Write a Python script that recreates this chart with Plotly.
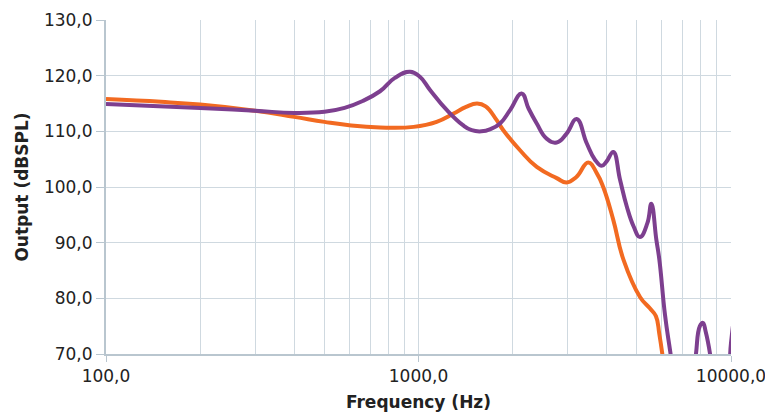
import plotly.graph_objects as go

# Orange series
freq_orange = [100, 150, 200, 300, 400, 500, 600, 753, 965, 1143, 1295, 1420, 1540, 1640, 1779,
               1868, 2113, 2390, 2768, 2978, 3200, 3493, 3718, 3900, 4200, 4530, 5120,
               5500, 5750, 5900, 6100, 6400]
out_orange = [115.8, 115.3, 114.8, 113.7, 112.6, 111.7, 111.1, 110.7, 110.8, 111.7, 113.2, 114.4, 115.0, 114.5, 112.0,
              110.2, 106.6, 103.6, 101.6, 100.8, 101.8, 104.4, 102.5, 100.0, 94.1, 86.9, 80.2,
              78.2, 76.8, 73.5, 68.0, 60.0]

# Purple series
freq_purple = [100, 200, 300, 400, 500, 580, 660, 753, 840, 940, 1010, 1090, 1233, 1387, 1480, 1590,
               1700, 1824, 1963, 2138, 2250, 2390, 2570, 2768, 2978, 3206, 3451, 3670,
               3857, 4000, 4200, 4415, 4640, 4880, 5110, 5400, 5560, 5770, 5900, 6150, 6400,
               6800, 7200, 7500, 7725, 7950, 8130, 8300, 8570, 9000, 9500, 10000, 10400]
out_purple = [114.9, 114.2, 113.7, 113.3, 113.5, 114.2, 115.4, 117.2, 119.6, 120.7, 119.8, 117.4, 113.8, 111.1, 110.2, 110.0,
              110.4, 111.4, 113.8, 116.8, 114.1, 111.4, 108.7, 108.0, 109.6, 112.2, 107.9, 104.9,
              103.8, 104.6, 106.3, 101.3, 96.5, 92.9, 91.0, 93.5, 97.0, 90.5, 86.9, 77.0, 70.2,
              60.0, 58.0, 62.0, 70.0, 75.0, 75.6, 74.0, 70.0, 60.0, 60.0, 72.0, 80.0]

x_tickvals = [100, 1000, 10000]
x_ticktext = ["100,0", "1000,0", "10000,0"]
x_minor = [v * m for v in [100, 1000] for m in range(2, 10)]
y_tickvals = [70, 80, 90, 100, 110, 120, 130]
y_ticktext = ["70,0", "80,0", "90,0", "100,0", "110,0", "120,0", "130,0"]

grid = "#cfd9e0"
axis_col = "#b9c6cf"
font_fam = "'DejaVu Sans', sans-serif"

fig = go.Figure()
fig.add_trace(go.Scatter(x=freq_orange, y=out_orange, mode="lines",
                         line=dict(color="#f26a21", width=4, shape="spline", smoothing=1.3),
                         showlegend=False))
fig.add_trace(go.Scatter(x=freq_purple, y=out_purple, mode="lines",
                         line=dict(color="#7d3f8f", width=4, shape="spline", smoothing=1.3),
                         showlegend=False))

fig.update_layout(
    width=765, height=406,
    margin=dict(l=98, r=42, t=12, b=60),
    plot_bgcolor="white", paper_bgcolor="white",
    font=dict(family=font_fam, color="#222222", size=17),
    xaxis=dict(
        type="log", range=[2, 4], automargin=False,
        tickmode="array", tickvals=x_tickvals, ticktext=x_ticktext,
        showgrid=True, gridcolor=grid, gridwidth=1,
        minor=dict(tickmode="array", tickvals=x_minor, showgrid=True, gridcolor=grid, gridwidth=1, ticks=""),
        showline=True, linecolor=axis_col, linewidth=2,
        ticks="outside", ticklen=6, tickcolor=axis_col,
        tickfont=dict(size=17),
        title=dict(text="<b>Frequency (Hz)</b>", font=dict(size=17), standoff=11),
        zeroline=False,
    ),
    yaxis=dict(
        range=[70, 130], automargin=False,
        tickmode="array", tickvals=y_tickvals, ticktext=y_ticktext,
        showgrid=True, gridcolor=grid, gridwidth=1,
        showline=True, linecolor=axis_col, linewidth=2,
        ticks="outside", ticklen=8, tickcolor=axis_col,
        tickfont=dict(size=17),
        title=dict(text="<b>Output (dBSPL)</b>", font=dict(size=17), standoff=11),
        zeroline=False,
    ),
)

fig.write_html("out.html")
